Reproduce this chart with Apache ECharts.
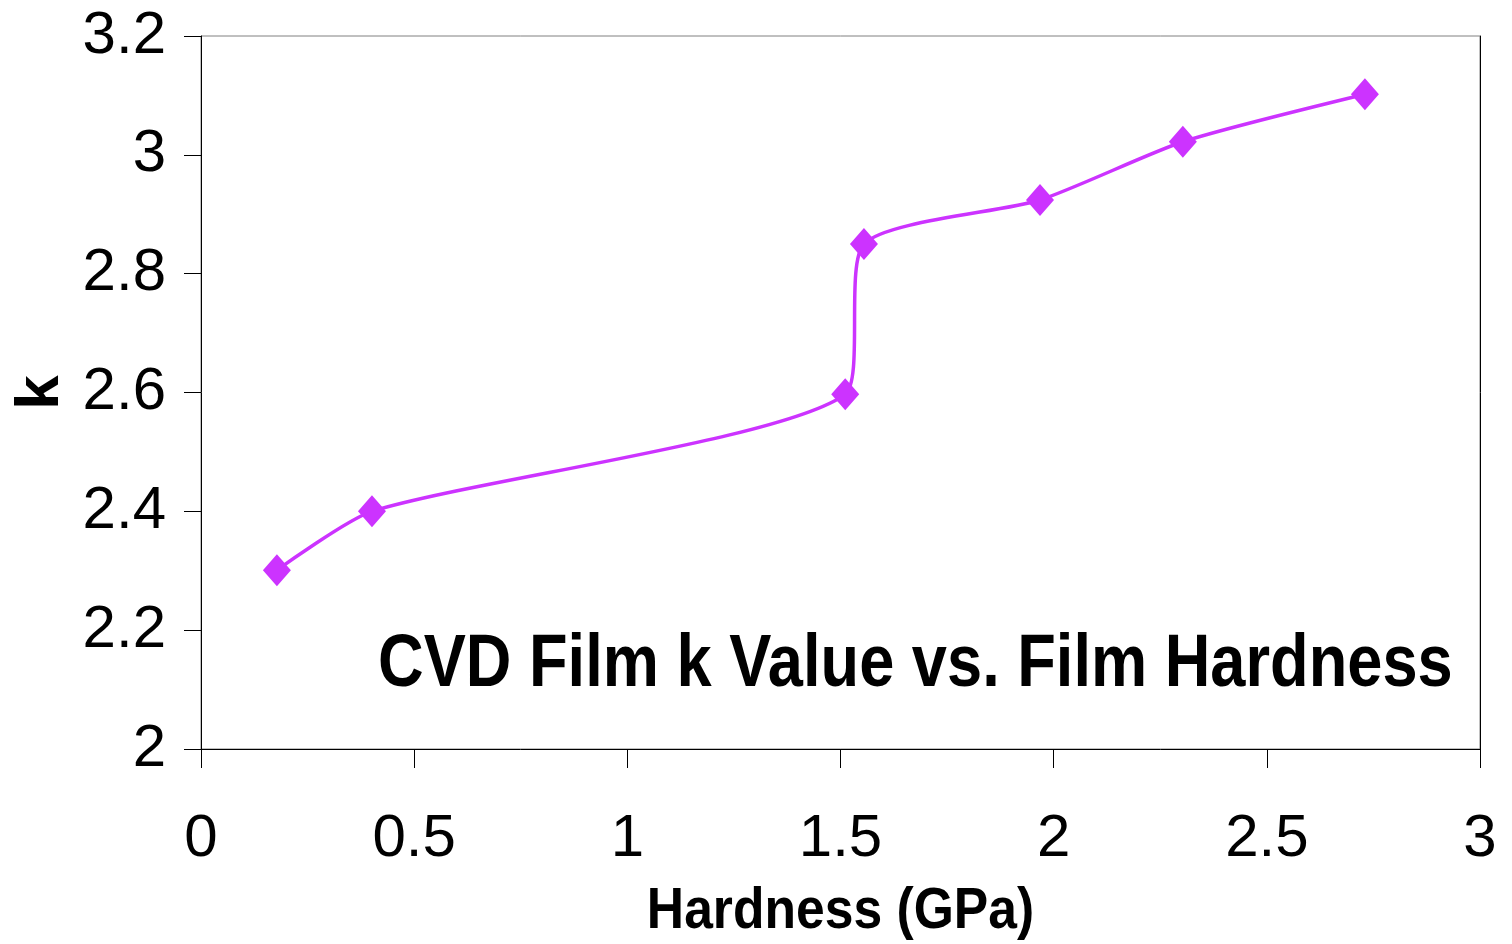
<!DOCTYPE html>
<html>
<head>
<meta charset="utf-8">
<script src="https://cdn.jsdelivr.net/npm/echarts@6/dist/echarts.min.js"></script>
<style>
html,body{margin:0;padding:0;background:#fff;}
#chart{width:1512px;height:944px;}
</style>
</head>
<body>
<div id="chart"></div>
<script>
const hardness = [0.178, 0.401, 1.511, 1.555, 1.968, 2.303, 2.730];
const kValues = [2.301, 2.400, 2.597, 2.850, 2.924, 3.022, 3.102];
const titleText = 'CVD Film k Value vs. Film Hardness';
const xAxisName = 'Hardness (GPa)';
const yAxisName = 'k';

const font = "'Liberation Sans', Arial, sans-serif";
const chart = echarts.init(document.getElementById('chart'));
chart.setOption({
  animation: false,
  backgroundColor: '#fff',
  grid: {left: 201, right: 32, top: 36, bottom: 195, show: true, borderColor: '#808080', borderWidth: 1,
         containLabel: false, outerBoundsMode: 'none'},
  xAxis: {
    type: 'value', min: 0, max: 3, interval: 0.5,
    axisLine: {show: true, lineStyle: {color: '#000', width: 1}},
    axisTick: {show: true, length: 19, inside: false, lineStyle: {color: '#000'}},
    axisLabel: {margin: 60, fontFamily: font, fontSize: 60, color: '#000'},
    splitLine: {show: false}
  },
  yAxis: [{
    type: 'value', min: 2, max: 3.2, interval: 0.2,
    name: yAxisName, nameLocation: 'middle', nameGap: 125, nameRotate: 90,
    nameTextStyle: {fontFamily: font, fontWeight: 'bold', fontSize: 62, color: '#000'},
    axisLine: {show: true, lineStyle: {color: '#000', width: 1}},
    axisTick: {show: true, length: 17, inside: false, lineStyle: {color: '#000'}},
    axisLabel: {margin: 35, fontFamily: font, fontSize: 60, color: '#000',
      formatter: v => String(Math.round(v * 10) / 10)},
    splitLine: {show: false}
  }, {
    type: 'value', min: 2, max: 3.2, interval: 0.2, position: 'right',
    axisLine: {show: true, onZero: false, lineStyle: {color: '#000', width: 1}},
    axisTick: {show: false}, axisLabel: {show: false}, splitLine: {show: false}
  }],
  series: [{
    type: 'line',
    data: hardness.map((x, i) => [x, kValues[i]]),
    smooth: 0.22,
    symbol: 'diamond', symbolSize: [28, 32],
    lineStyle: {color: '#CC33FF', width: 3.5},
    itemStyle: {color: '#CC33FF'}
  }],
  graphic: [{
    type: 'text', x: 378, y: 629, scaleX: 0.854,
    style: {text: titleText, font: "bold 74px " + font, fill: '#000', verticalAlign: 'top'}
  }, {
    type: 'text', x: 840.5, y: 883, scaleX: 0.89,
    style: {text: xAxisName, font: "bold 58px " + font, fill: '#000', align: 'center', verticalAlign: 'top'}
  }]
});
</script>
</body>
</html>
